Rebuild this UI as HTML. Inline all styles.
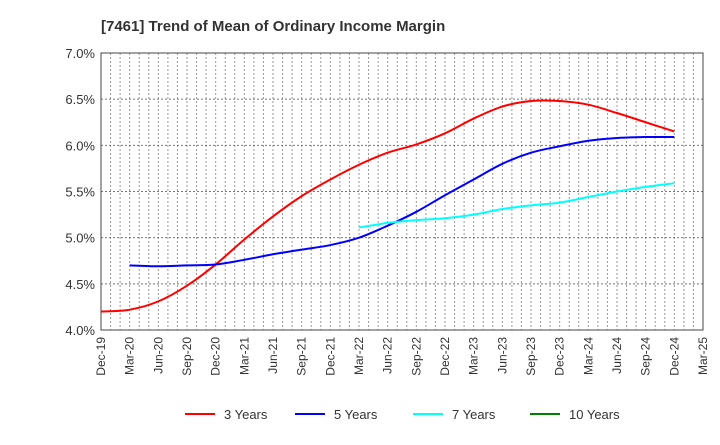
<!DOCTYPE html>
<html><head><meta charset="utf-8"><style>
body{margin:0;background:#fff;font-family:"Liberation Sans",sans-serif}
svg text{font-family:"Liberation Sans",sans-serif;fill:#333}
</style></head><body>
<svg id="c" width="720" height="440">
<text x="101" y="31" font-size="15" font-weight="bold">[7461]  Trend of Mean of Ordinary Income Margin</text>
<g id="grid"></g><g id="axes"></g><g id="series"></g><g id="legend"></g>
</svg>
<script>
const xLabels=["Dec-19","Mar-20","Jun-20","Sep-20","Dec-20","Mar-21","Jun-21","Sep-21","Dec-21","Mar-22","Jun-22","Sep-22","Dec-22","Mar-23","Jun-23","Sep-23","Dec-23","Mar-24","Jun-24","Sep-24","Dec-24","Mar-25"];
const yTicks=[4.0,4.5,5.0,5.5,6.0,6.5,7.0];
const s3=[4.20,4.22,4.31,4.48,4.71,4.98,5.23,5.45,5.63,5.79,5.92,6.01,6.13,6.29,6.42,6.48,6.48,6.44,6.35,6.25,6.15];
const s5=[null,4.70,4.69,4.70,4.71,4.76,4.82,4.87,4.92,5.00,5.13,5.28,5.46,5.63,5.80,5.92,5.99,6.05,6.08,6.09,6.09];
const s7=[null,null,null,null,null,null,null,null,null,5.11,5.16,5.19,5.21,5.25,5.31,5.35,5.38,5.44,5.50,5.55,5.59];
const s10=[];
const L=101,R=703,T=53,B=330,NS="http://www.w3.org/2000/svg";
const X=i=>L+i*(R-L)/21, Y=v=>B-(v-4)/3*(B-T);
function mk(t,a,p){const e=document.createElementNS(NS,t);for(const k in a)e.setAttribute(k,a[k]);p.appendChild(e);return e;}
const g=document.getElementById('grid');
for(let m=1;m<63;m++){const x=L+m*(R-L)/63;
const l=mk('line',{x1:x,x2:x,y1:T,y2:B,stroke:'#999','stroke-dasharray':'2,2','stroke-width':1},g);

}
yTicks.forEach(v=>{const l=mk('line',{x1:L,x2:R,y1:Y(v),y2:Y(v),stroke:'#777','stroke-dasharray':'2,2'},g);


const t=mk('text',{x:L-6,y:Y(v)+5,'text-anchor':'end','font-size':13},g);t.textContent=v.toFixed(1)+'%';

});
const a=document.getElementById('axes');
const fr=mk('rect',{x:L,y:T,width:R-L,height:B-T,fill:'none',stroke:'#444'},a);


xLabels.forEach((s,i)=>{const x=X(i);const t=mk('text',{x:0,y:0,'text-anchor':'end','font-size':12,transform:`translate(${x+4},${B+7}) rotate(-90)`},a);t.textContent=s;

});
function path(arr){const p=[];arr.forEach((v,i)=>{if(v!=null)p.push([X(i),Y(v)]);});if(p.length<2)return '';
let d=`M${p[0][0]},${p[0][1]}`;for(let i=0;i<p.length-1;i++){const p0=p[i-1]||p[i],p1=p[i],p2=p[i+1],p3=p[i+2]||p2;
d+=` C${p1[0]+(p2[0]-p0[0])/6},${p1[1]+(p2[1]-p0[1])/6} ${p2[0]-(p3[0]-p1[0])/6},${p2[1]-(p3[1]-p1[1])/6} ${p2[0]},${p2[1]}`;}return d;}
const sg=document.getElementById('series');
[[s3,'#ff0000','series-3-years'],[s5,'#0000ff','series-5-years'],[s7,'#00ffff','series-7-years'],[s10,'#008000','series-10-years']].forEach(([arr,c,n])=>{
const d=path(arr);if(!d)return;const e=mk('path',{d:d,fill:'none',stroke:c,'stroke-width':2},sg);

});
const lg=document.getElementById('legend');
[['3 Years','#ff0000',185],['5 Years','#0000ff',295],['7 Years','#00ffff',413],['10 Years','#008000',530]].forEach(([s,c,x])=>{
const ln=mk('line',{x1:x,x2:x+30,y1:414,y2:414,stroke:c,'stroke-width':2},lg);


const t=mk('text',{x:x+39,y:419,'font-size':13},lg);t.textContent=s;

});
</script>
</body></html>
